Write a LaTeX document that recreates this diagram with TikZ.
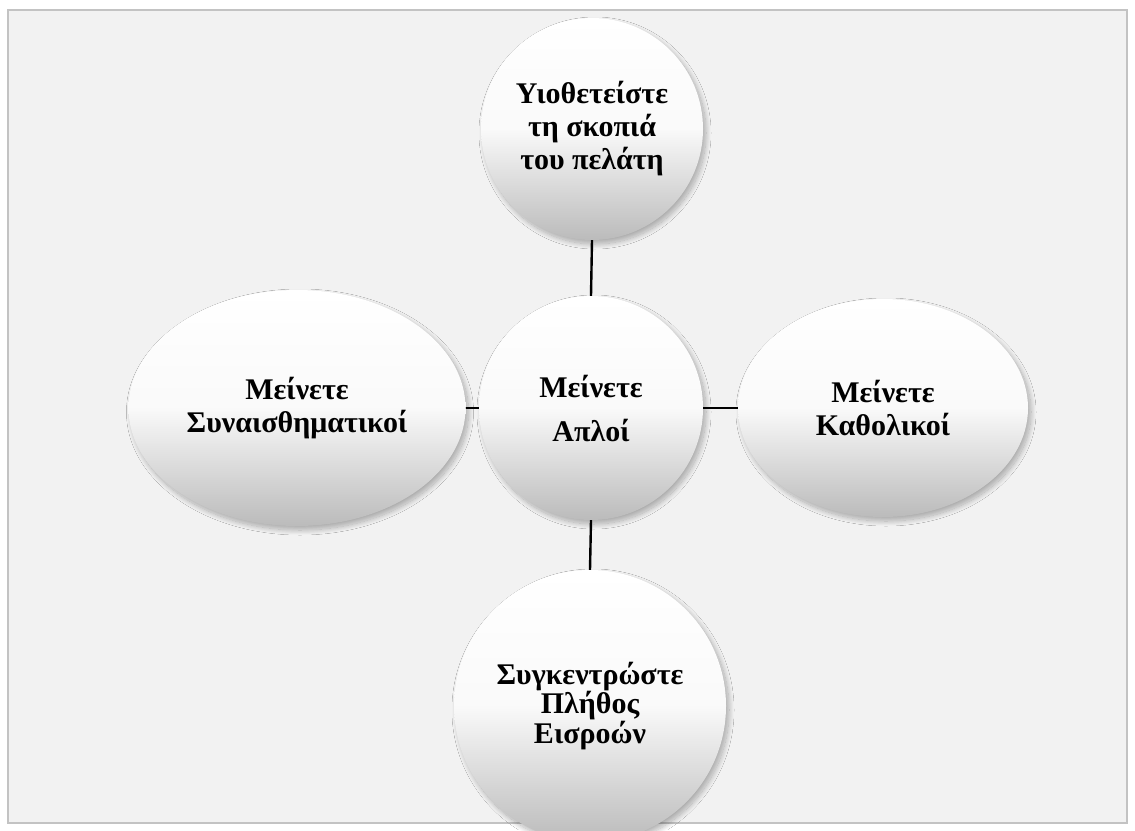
\documentclass[tikz,border=0pt]{standalone}
\usepackage{fontspec}
\setmainfont{Liberation Serif}
\usetikzlibrary{shapes.geometric,shadows.blur}
\definecolor{panel}{HTML}{F2F2F2}
\definecolor{paneledge}{HTML}{C3C3C3}
\definecolor{ballbottom}{HTML}{BBBBBB}
\tikzset{
  ball/.style={inner sep=0pt, align=center, font=\bfseries\fontsize{30}{33}\selectfont,
    top color=white, bottom color=ballbottom, middle color=white!92!ballbottom,
    blur shadow={shadow xshift=3pt, shadow yshift=-4pt, shadow blur steps=20,
      shadow blur radius=5pt, shadow opacity=30}},
  roundball/.style={ball, circle},
  ovalball/.style={ball, ellipse},
  link/.style={line width=2.4pt, black}
}
\begin{document}
\begin{tikzpicture}[x=1pt, y=-1pt]
  \useasboundingbox (0,0) rectangle (1135,830);
  \fill[white] (0,0) rectangle (1135,830);
  % framed panel
  \draw[fill=panel, draw=paneledge, line width=2pt] (8,10) rectangle (1127,823);

  % bubbles
  \node[roundball, minimum size=222pt] (top) at (592,129)
    {Υιοθετείστε\\τη σκοπιά\\του πελάτη};
  \node[roundball, minimum size=224pt, font=\bfseries\fontsize{30}{44}\selectfont] (mid) at (591,408)
    {Μείνετε\\Απλοί};
  \node[ovalball, minimum width=337pt, minimum height=236pt] (left) at (297,408)
    {Μείνετε\\Συναισθηματικοί};
  \node[ovalball, minimum width=290pt, minimum height=218pt] (right) at (883,408)
    {Μείνετε\\Καθολικοί};
  \node[roundball, minimum size=272pt, font=\bfseries\fontsize{30}{28.5}\selectfont] (bot) at (590,706)
    {Συγκεντρώστε\\Πλήθος\\Εισροών};

  % connectors
  \draw[link] (top.south) -- (mid.north);
  \draw[link] (mid.south) -- (bot.north);
  \draw[link] (left.east) -- (mid.west);
  \draw[link] (mid.east) -- (right.west);
\end{tikzpicture}
\end{document}
